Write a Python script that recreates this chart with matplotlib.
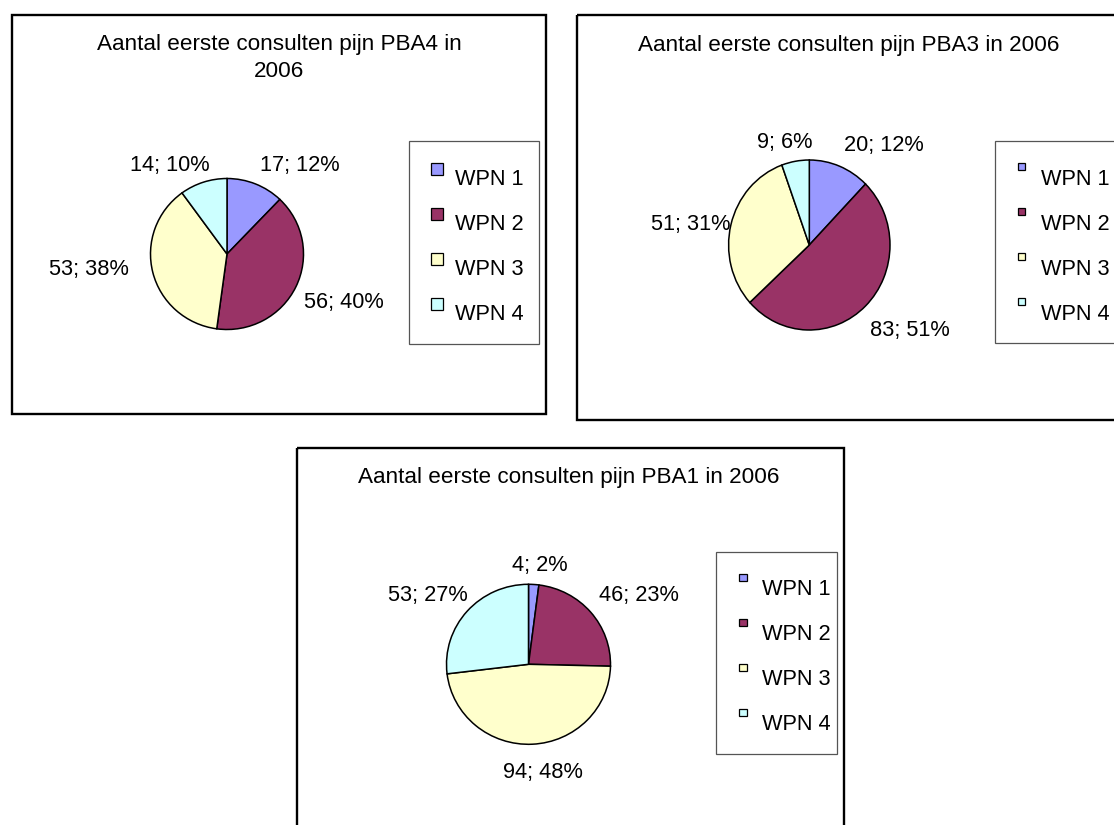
import matplotlib
matplotlib.use("Agg")
import matplotlib.pyplot as plt
from matplotlib.patches import Rectangle

plt.rcParams["font.family"] = ["Liberation Sans", "DejaVu Sans"]

# ---------------- data ----------------
categories = ["WPN 1", "WPN 2", "WPN 3", "WPN 4"]
slice_colors = ["#9999FF", "#993366", "#FFFFCC", "#CCFFFF"]

pba4_title = "Aantal eerste consulten pijn PBA4 in\n2006"
pba4_counts = [17, 56, 53, 14]

pba3_title = "Aantal eerste consulten pijn PBA3 in 2006"
pba3_counts = [20, 83, 51, 9]

pba1_title = "Aantal eerste consulten pijn PBA1 in 2006"
pba1_counts = [4, 46, 94, 53]

# ---------------- layout (pixels) ----------------
W, H = 1114, 825
LABEL_PT = 15.7
TITLE_PT = 16.2
TITLE_LINE_STEP = 27.5

panels = [
    dict(counts=pba4_counts, title=pba4_title,
         frame=(12, 14.5, 546, 413.5), title_xy=(279, 41.7),
         pie=(227, 254, 76.5, 75.5),
         label_xy=[(300, 163), (344, 300), (89, 267), (170, 163)],
         legend=(408.5, 141, 538.5, 344), marker=12, marker_x=431,
         marker_dy=-7.5, text_x=455, rows=[176.7, 221.7, 266.7, 311.7]),
    dict(counts=pba3_counts, title=pba3_title,
         frame=(577, 14.5, 1130, 420), title_xy=(849, 43),
         pie=(809.3, 245, 80.7, 85),
         label_xy=[(884, 143), (910, 328), (691, 222), (785, 140)],
         legend=(994.5, 140.7, 1130, 343.3), marker=7, marker_x=1018,
         marker_dy=-10, text_x=1040.7, rows=[176.7, 221.7, 266.7, 311.7]),
    dict(counts=pba1_counts, title=pba1_title,
         frame=(296.5, 448, 844, 840), title_xy=(569, 475),
         pie=(528.5, 664.3, 82, 80),
         label_xy=[(540, 563.3), (639, 593.3), (543, 770), (428, 593.3)],
         legend=(716, 551.7, 836.5, 754.3), marker=7.5, marker_x=739,
         marker_dy=-9, text_x=762, rows=[586.7, 631.7, 676.7, 721.7]),
]


def half_cap(pt):
    """Half the cap height of Arial-like text, in pixels at 100 dpi."""
    return 0.716 * pt * 100 / 72 / 2


fig = plt.figure(figsize=(W / 100, H / 100), dpi=100)
fig.patch.set_facecolor("white")

overlay = fig.add_axes([0, 0, 1, 1], zorder=3)
overlay.set_xlim(0, W)
overlay.set_ylim(H, 0)
overlay.axis("off")
overlay.patch.set_alpha(0)

for p in panels:
    counts = p["counts"]
    total = sum(counts)

    # chart frame
    x0, y0, x1, y1 = p["frame"]
    overlay.add_patch(Rectangle((x0, y0), x1 - x0, y1 - y0, fill=False,
                                edgecolor="black", linewidth=1.7))

    # title
    tx, ty = p["title_xy"]
    for i, line in enumerate(p["title"].split("\n")):
        overlay.text(tx, ty + i * TITLE_LINE_STEP + half_cap(TITLE_PT), line,
                     ha="center", va="baseline", fontsize=TITLE_PT)

    # pie
    cx, cy, rx, ry = p["pie"]
    ax = fig.add_axes([(cx - rx) / W, 1 - (cy + ry) / H, 2 * rx / W, 2 * ry / H],
                      zorder=1)
    wedges, _ = ax.pie(counts, colors=slice_colors, startangle=90,
                       counterclock=False,
                       wedgeprops=dict(edgecolor="black", linewidth=1.1))
    for w in wedges:
        w.set_clip_on(False)
    ax.set_xlim(-1, 1)
    ax.set_ylim(-1, 1)
    ax.set_aspect("auto")
    ax.axis("off")

    # data labels "value; percent"
    for v, (lx, ly) in zip(counts, p["label_xy"]):
        pct = round(100 * v / total)
        overlay.text(lx, ly + half_cap(LABEL_PT), f"{v}; {pct}%",
                     ha="center", va="baseline", fontsize=LABEL_PT)

    # legend
    lx0, ly0, lx1, ly1 = p["legend"]
    overlay.add_patch(Rectangle((lx0, ly0), lx1 - lx0, ly1 - ly0,
                                facecolor="white", edgecolor="#555555",
                                linewidth=0.9))
    m = p["marker"]
    for name, col, row in zip(categories, slice_colors, p["rows"]):
        my = row + p["marker_dy"]
        overlay.add_patch(Rectangle((p["marker_x"], my - m / 2), m, m,
                                    facecolor=col, edgecolor="black",
                                    linewidth=0.9))
        overlay.text(p["text_x"], row + half_cap(LABEL_PT), name,
                     ha="left", va="baseline", fontsize=LABEL_PT)

fig.savefig("out.png", dpi=100, facecolor="white")
